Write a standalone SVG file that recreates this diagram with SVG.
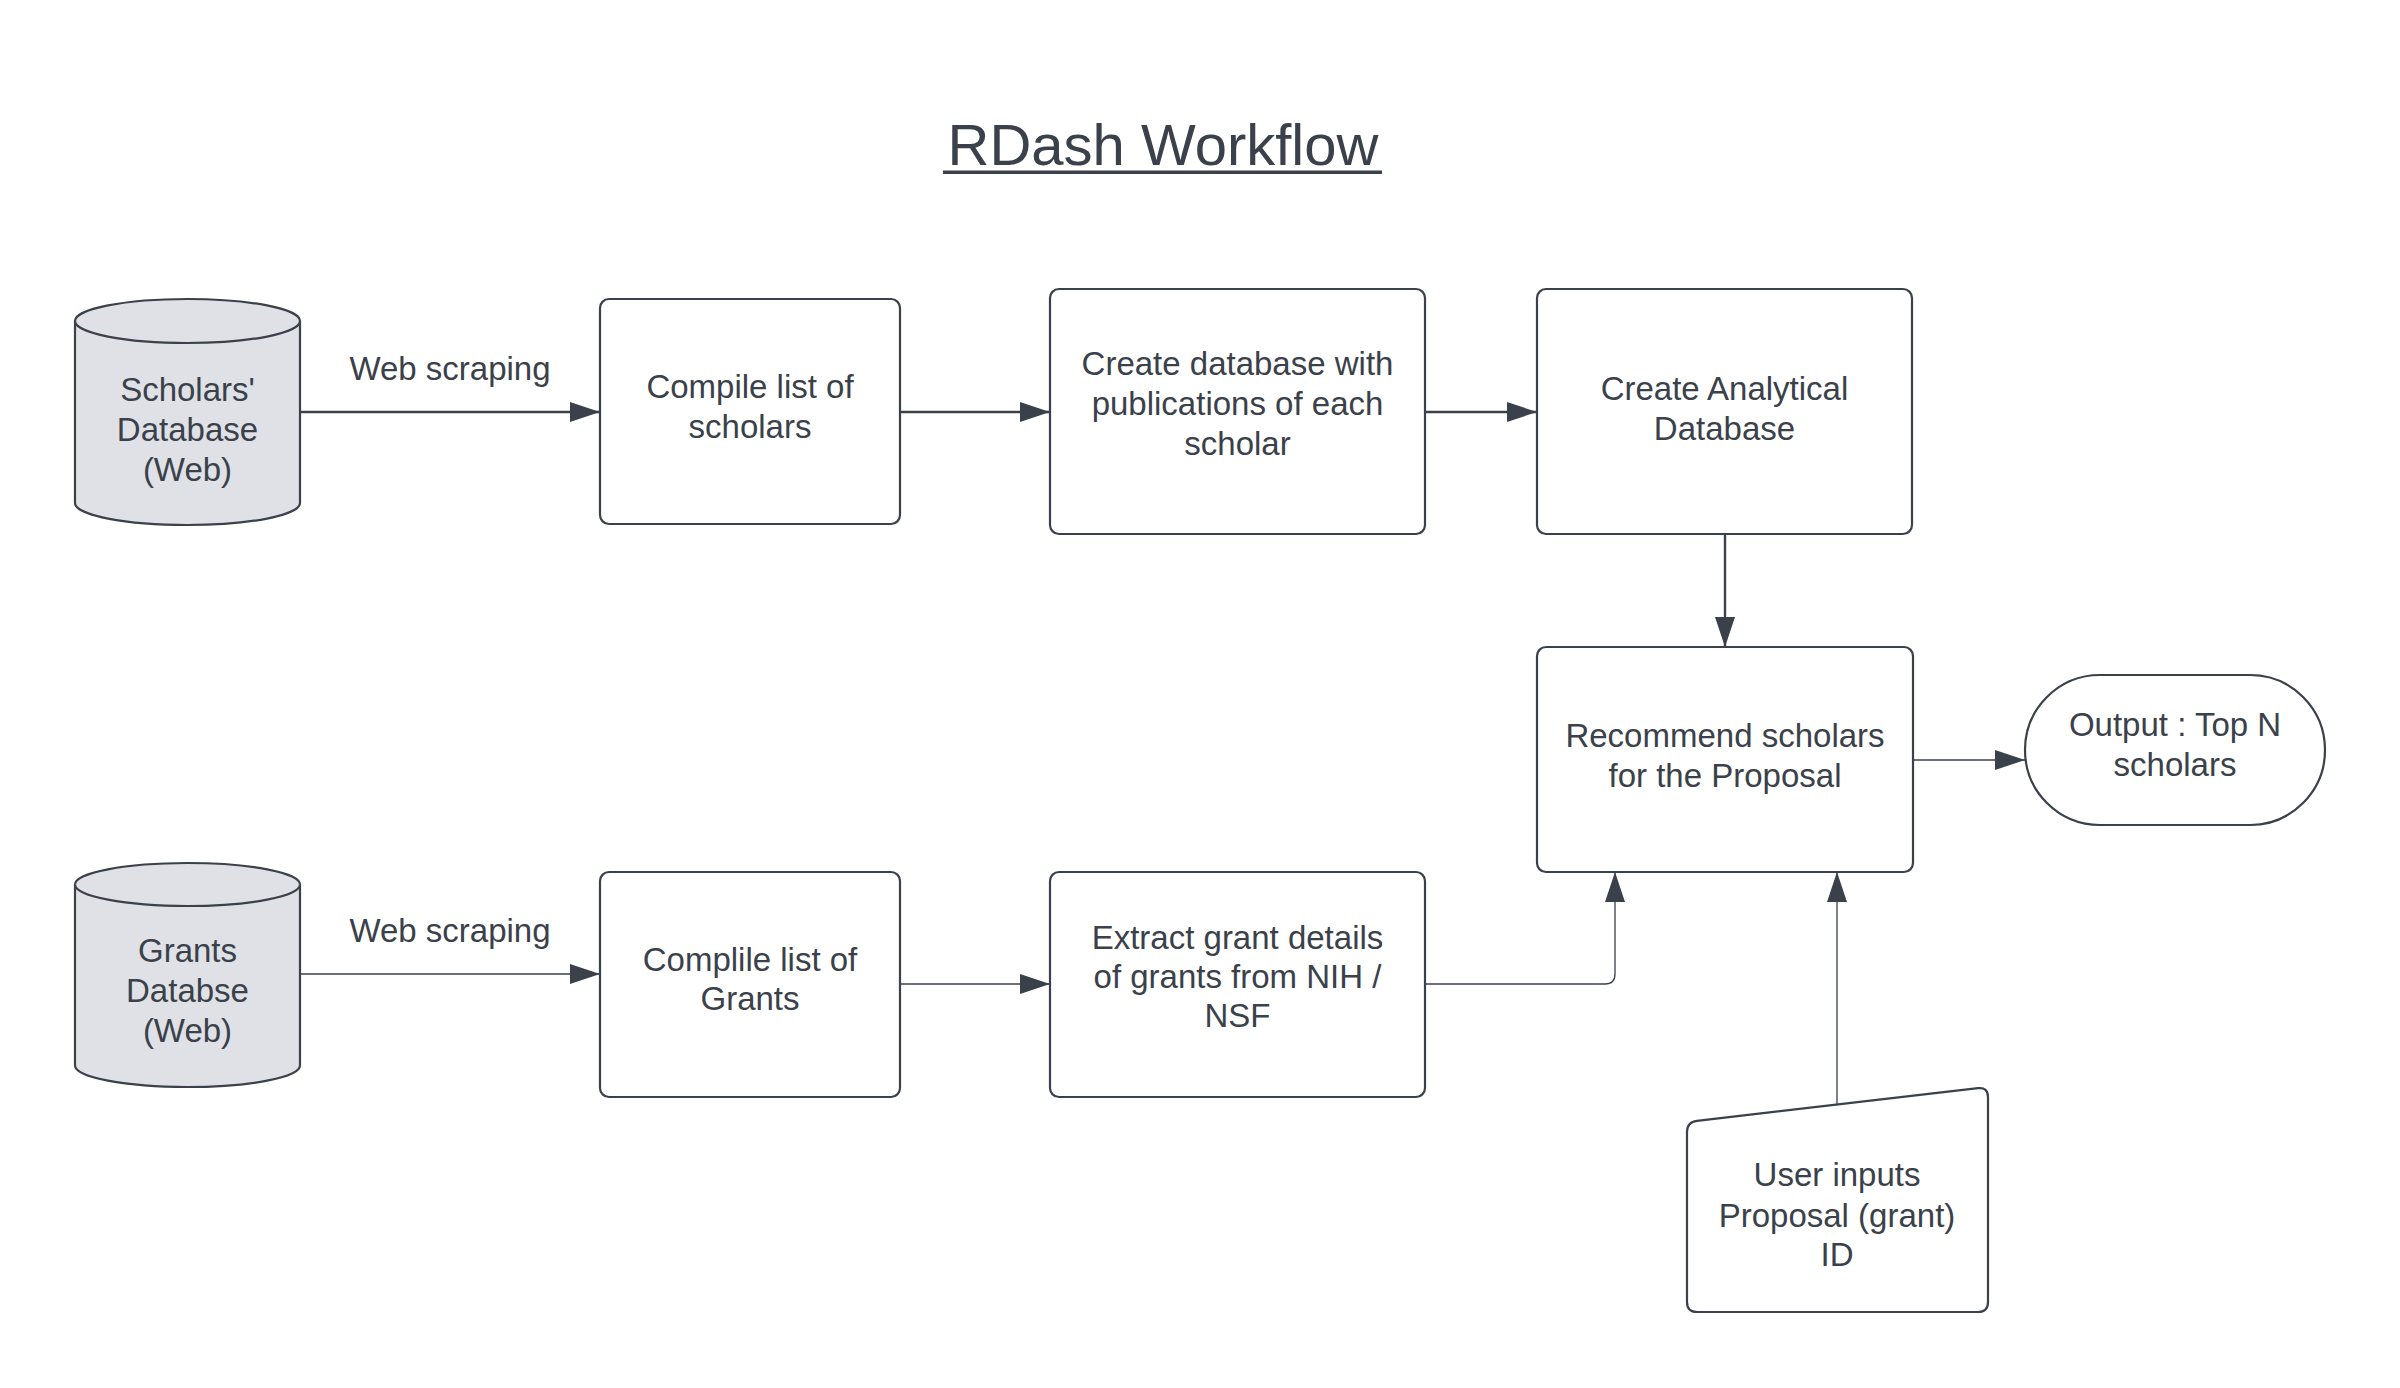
<svg xmlns="http://www.w3.org/2000/svg" width="2400" height="1388" viewBox="0 0 2400 1388">
  <style>
    .shape { fill: #ffffff; stroke: #3a414a; stroke-width: 2.2; }
    .db { fill: #dfe1e6; stroke: #3a414a; stroke-width: 2.2; }
    .lbl { font-family: "Liberation Sans", Arial, sans-serif; font-size: 33px; fill: #3a414a; text-anchor: middle; }
    .title { font-family: "Liberation Sans", Arial, sans-serif; font-size: 58px; fill: #3a414a; text-anchor: middle; }
    .thick { fill: none; stroke: #3a414a; stroke-width: 2.4; }
    .thin { fill: none; stroke: #3a414a; stroke-width: 1.3; }
  </style>
  <defs>
    <marker id="arrow" markerUnits="userSpaceOnUse" markerWidth="30" markerHeight="20" refX="30" refY="10" orient="auto" viewBox="0 0 30 20">
      <path d="M0,0 L30,10 L0,20 Z" fill="#3a414a"/>
    </marker>
  </defs>
  <rect width="2400" height="1388" fill="#ffffff"/>

  <g id="title">
    <text class="title" x="1163" y="165">RDash Workflow</text>
    <rect x="943" y="170.5" width="439" height="3.5" fill="#3a414a"/>
  </g>

  <g id="connectors">
    <line class="thick" x1="300" y1="412" x2="600" y2="412" marker-end="url(#arrow)"/>
    <line class="thick" x1="900" y1="412" x2="1050" y2="412" marker-end="url(#arrow)"/>
    <line class="thick" x1="1425" y1="412" x2="1537" y2="412" marker-end="url(#arrow)"/>
    <line class="thick" x1="1725" y1="534" x2="1725" y2="647" marker-end="url(#arrow)"/>
    <line class="thin" x1="1913" y1="760" x2="2025" y2="760" marker-end="url(#arrow)"/>
    <line class="thin" x1="300" y1="974" x2="600" y2="974" marker-end="url(#arrow)"/>
    <line class="thin" x1="900" y1="984" x2="1050" y2="984" marker-end="url(#arrow)"/>
    <path class="thin" d="M1425,984 L1605,984 Q1615,984 1615,974 L1615,872" marker-end="url(#arrow)"/>
    <line class="thin" x1="1837" y1="1104" x2="1837" y2="872" marker-end="url(#arrow)"/>
    <text class="lbl" x="450" y="380">Web scraping</text>
    <text class="lbl" x="450" y="942">Web scraping</text>
  </g>

  <g id="scholars-db">
    <path class="db" d="M75,321 A112.5,22 0 0 1 300,321 L300,503 A112.5,22 0 0 1 75,503 Z"/>
    <path class="db" d="M75,321 A112.5,22 0 0 0 300,321"/>
    <text class="lbl" x="187.5" y="401">Scholars'</text>
    <text class="lbl" x="187.5" y="441">Database</text>
    <text class="lbl" x="187.5" y="481">(Web)</text>
  </g>

  <g id="compile-scholars">
    <rect class="shape" x="600" y="299" width="300" height="225" rx="9"/>
    <text class="lbl" x="750" y="398">Compile list of</text>
    <text class="lbl" x="750" y="438">scholars</text>
  </g>

  <g id="create-pub-db">
    <rect class="shape" x="1050" y="289" width="375" height="245" rx="9"/>
    <text class="lbl" x="1237.5" y="375">Create database with</text>
    <text class="lbl" x="1237.5" y="415">publications of each</text>
    <text class="lbl" x="1237.5" y="455">scholar</text>
  </g>

  <g id="create-analytical-db">
    <rect class="shape" x="1537" y="289" width="375" height="245" rx="9"/>
    <text class="lbl" x="1724.5" y="400">Create Analytical</text>
    <text class="lbl" x="1724.5" y="440">Database</text>
  </g>

  <g id="recommend">
    <rect class="shape" x="1537" y="647" width="376" height="225" rx="9"/>
    <text class="lbl" x="1725" y="747">Recommend scholars</text>
    <text class="lbl" x="1725" y="787">for the Proposal</text>
  </g>

  <g id="output">
    <rect class="shape" x="2025" y="675" width="300" height="150" rx="75"/>
    <text class="lbl" x="2175" y="736">Output : Top N</text>
    <text class="lbl" x="2175" y="776">scholars</text>
  </g>

  <g id="grants-db">
    <path class="db" d="M75,884.5 A112.5,21.5 0 0 1 300,884.5 L300,1065.5 A112.5,21.5 0 0 1 75,1065.5 Z"/>
    <path class="db" d="M75,884.5 A112.5,21.5 0 0 0 300,884.5"/>
    <text class="lbl" x="187.5" y="962">Grants</text>
    <text class="lbl" x="187.5" y="1002">Databse</text>
    <text class="lbl" x="187.5" y="1042">(Web)</text>
  </g>

  <g id="compile-grants">
    <rect class="shape" x="600" y="872" width="300" height="225" rx="9"/>
    <text class="lbl" x="750" y="971">Complile list of</text>
    <text class="lbl" x="750" y="1010">Grants</text>
  </g>

  <g id="extract-grants">
    <rect class="shape" x="1050" y="872" width="375" height="225" rx="9"/>
    <text class="lbl" x="1237.5" y="949">Extract grant details</text>
    <text class="lbl" x="1237.5" y="988">of grants from NIH /</text>
    <text class="lbl" x="1237.5" y="1027">NSF</text>
  </g>

  <g id="user-input">
    <path class="shape" d="M1687,1132 Q1687,1122 1697,1120.8 L1978,1088.2 Q1988,1087 1988,1097 L1988,1302 Q1988,1312 1978,1312 L1697,1312 Q1687,1312 1687,1302 Z"/>
    <text class="lbl" x="1837" y="1186">User inputs</text>
    <text class="lbl" x="1837" y="1227">Proposal (grant)</text>
    <text class="lbl" x="1837" y="1266">ID</text>
  </g>
</svg>
